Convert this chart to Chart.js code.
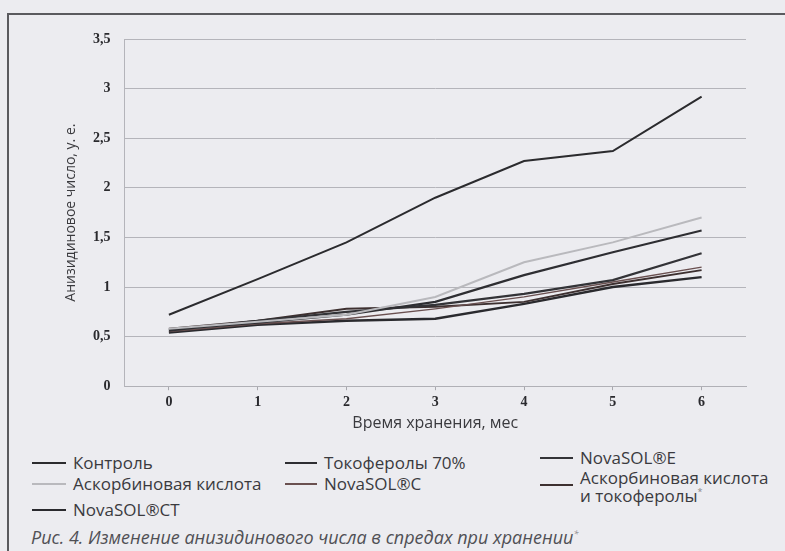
<!DOCTYPE html>
<html>
<head>
<meta charset="utf-8">
<script src="https://cdn.jsdelivr.net/npm/chart.js@4.4.1/dist/chart.umd.min.js"></script>
<style>
  html, body { margin: 0; padding: 0; }
  body { width: 785px; height: 551px; background: #ececf0; position: relative; overflow: hidden; font-family: "Open Sans", sans-serif; }
  .frame { position: absolute; left: 7px; top: 13px; width: 790px; height: 560px; border-left: 2px solid #5a5a5e; border-top: 2px solid #5a5a5e; }
  .chartbox { position: absolute; left: 0; top: 0; width: 785px; height: 431px; }
  .leg { position: absolute; font-size: 17px; color: #3a3a3e; line-height: 15px; white-space: nowrap; }
  .caption { position: absolute; left: 31px; top: 524px; font-size: 18px; line-height: 20px; font-style: italic; color: #505055; white-space: nowrap; }
  sup { font-size: 9px; color: #888; }
</style>
</head>
<body>
<div class="frame"></div>
<div class="chartbox"><canvas id="grafico"></canvas></div>
<div id="legenda"></div>
<div class="caption">Рис. 4. Изменение анизидинового числа в спредах при хранении<sup>*</sup></div>
<script>
// dados
const meses = ['0', '1', '2', '3', '4', '5', '6'];
const yTicks = [0, 0.5, 1, 1.5, 2, 2.5, 3, 3.5];

const kontrol       = [0.72, 1.08, 1.45, 1.90, 2.27, 2.37, 2.92];
const askorbin      = [0.58, 0.65, 0.72, 0.90, 1.25, 1.45, 1.70];
const tokoferoly    = [0.57, 0.64, 0.72, 0.85, 1.12, 1.35, 1.57];
const novasolE      = [0.56, 0.66, 0.75, 0.82, 0.93, 1.07, 1.34];
const novasolC      = [0.55, 0.63, 0.68, 0.78, 0.90, 1.05, 1.20];
const askorbinTokof = [0.58, 0.66, 0.78, 0.80, 0.85, 1.03, 1.17];
const novasolCT     = [0.54, 0.62, 0.66, 0.68, 0.83, 1.00, 1.10];

const series = [
    { label: 'Контроль', data: kontrol, color: '#2b2b2e', width: 2 },
    { label: 'Аскорбиновая кислота', data: askorbin, color: '#b9b9bd', width: 2 },
    { label: 'Токоферолы 70%', data: tokoferoly, color: '#2e2e32', width: 2.2 },
    { label: 'NovaSOL®E', data: novasolE, color: '#333337', width: 2.2 },
    { label: 'NovaSOL®C', data: novasolC, color: '#6a5050', width: 1.4 },
    { label: 'Аскорбиновая кислота и токоферолы', data: askorbinTokof, color: '#3d3030', width: 2 },
    { label: 'NovaSOL®CT', data: novasolCT, color: '#2a2a2e', width: 2.4 }
];

const datasets = series.map(function (s) {
    return {
        label: s.label,
        data: s.data,
        borderColor: s.color,
        borderWidth: s.width,
        pointRadius: 0,
        fill: false,
        tension: 0
    };
});

new Chart(document.getElementById('grafico'), {
    type: 'line',
    data: { labels: meses, datasets: datasets },
    options: {
        responsive: true,
        maintainAspectRatio: false,
        animation: false,
        layout: { padding: { left: 64, right: 39, top: 39, bottom: 0 } },
        plugins: { legend: { display: false }, tooltip: { enabled: false } },
        scales: {
            x: {
                offset: true,
                grid: { drawOnChartArea: false, offset: false, tickLength: 4, color: '#a8a8ae' },
                border: { color: '#b0b0b6' },
                ticks: { color: '#2a2a2e', font: { family: 'Liberation Serif', size: 14, weight: 'bold' }, padding: 4 },
                title: { display: true, text: 'Время хранения, мес', color: '#3a3a3e', font: { family: 'Open Sans', size: 16, lineHeight: 1 }, padding: { top: 0, bottom: 0 } }
            },
            y: {
                min: 0,
                max: 3.5,
                afterBuildTicks: function (axis) {
                    axis.ticks = yTicks.map(function (v) { return { value: v }; });
                },
                grid: { color: '#b4b4ba', drawTicks: false },
                border: { color: '#b4b4ba' },
                ticks: {
                    color: '#2a2a2e',
                    padding: 14,
                    font: { family: 'Liberation Serif', size: 14, weight: 'bold' },
                    callback: function (v) { return String(v).replace('.', ','); }
                },
                title: { display: true, text: 'Анизидиновое число, у. е.', color: '#3a3a3e', font: { family: 'Open Sans', size: 14, lineHeight: 1 }, padding: { top: 0, bottom: 1 } }
            }
        }
    }
});

// legenda montada em html (3 colunas, como na figura)
const posLegenda = [
    { x: 32, y: 455, lx: 73, dl: 7 },
    { x: 32, y: 476, lx: 73, dl: 7 },
    { x: 285, y: 455, lx: 324, dl: 7 },
    { x: 540, y: 450, lx: 580, dl: 7 },
    { x: 285, y: 476, lx: 324, dl: 7 },
    { x: 540, y: 471, lx: 580, dl: 13 },
    { x: 32, y: 502, lx: 73, dl: 7 }
];
const legenda = document.getElementById('legenda');
series.forEach(function (s, i) {
    const p = posLegenda[i];
    const linha = document.createElement('div');
    linha.className = 'leg';
    linha.style.left = p.x + 'px';
    linha.style.top = (p.y + p.dl) + 'px';
    linha.style.width = (p.lx - p.x - 7) + 'px';
    linha.style.borderTop = Math.max(2, s.width) + 'px solid ' + s.color;
    legenda.appendChild(linha);
    const txt = document.createElement('div');
    txt.className = 'leg';
    txt.style.left = p.lx + 'px';
    txt.style.top = p.y + 'px';
    if (i == 5) {
        txt.innerHTML = 'Аскорбиновая кислота<br>и токоферолы<sup>*</sup>';
        txt.style.lineHeight = '14px';
    } else {
        txt.textContent = s.label;
    }
    legenda.appendChild(txt);
});
</script>
</body>
</html>
